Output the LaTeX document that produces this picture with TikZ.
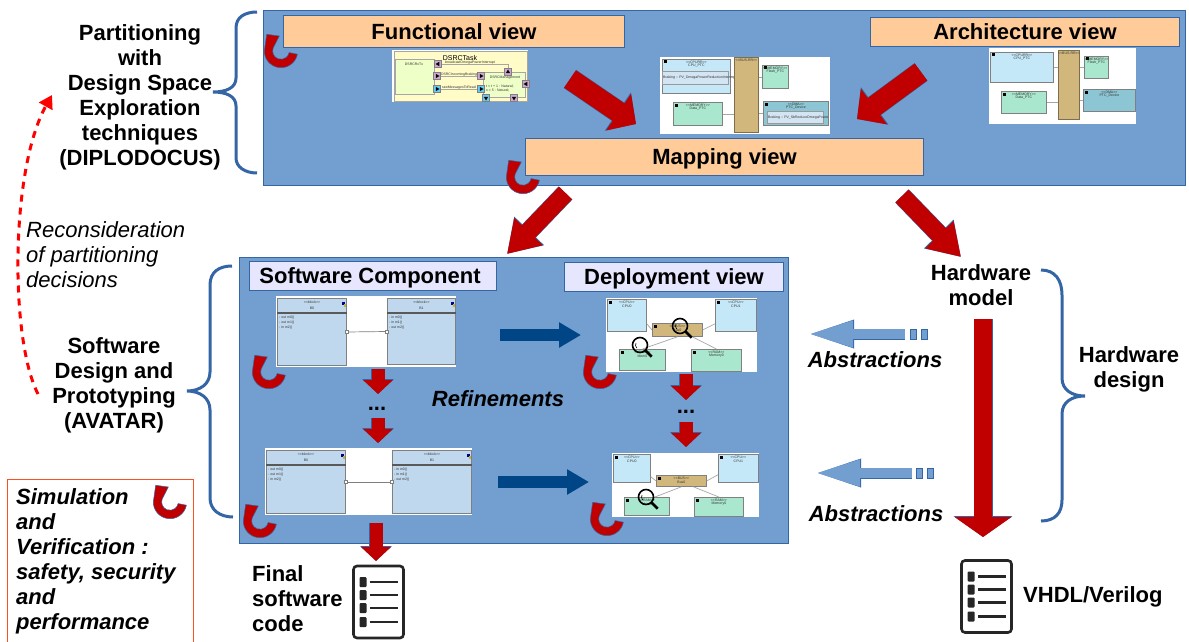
\documentclass[tikz,border=0pt]{standalone}
\usepackage{fontspec}
\setmainfont{Liberation Sans}
\usetikzlibrary{arrows.meta,shapes.geometric}
\definecolor{panelblue}{HTML}{729FCF}
\definecolor{edgeblue}{HTML}{3465A4}
\definecolor{arrowred}{HTML}{C00000}
\definecolor{navyblue}{HTML}{004586}
\definecolor{viewpeach}{HTML}{FFCC99}
\definecolor{viewlilac}{HTML}{E6E6FF}
\definecolor{cpublue}{HTML}{C5E8F8}
\definecolor{memgreen}{HTML}{A9E7CE}
\definecolor{bustan}{HTML}{D2B77C}
\definecolor{devteal}{HTML}{8CC5D3}
\definecolor{blockblue}{HTML}{C0D8EE}
\definecolor{simborder}{HTML}{FF4F20}
\newcommand{\stereo}[1]{<{}<#1>{}>}
\newcommand{\umlblock}[9]{
\node [umlbox,minimum width=#4pt,minimum height=#5pt] (#1) at (#2,#3) {};
\draw [umlline] ([yshift=-15pt]#1.north west) -- ([yshift=-15pt]#1.north east);
\fill [blue!55!black] ([shift={(-5pt,-4pt)}]#1.north east) rectangle +(3pt,-3pt);
\fill [yellow!70!black] ([shift={(-3pt,-6pt)}]#1.north east) rectangle +(2pt,-3pt);
\node [tinytext] (#1t) at ([yshift=-4pt]#1.north) {\stereo{block}};
\node [tinytext] (#1n) at ([yshift=-10pt]#1.north) {#6};
\node [tinytext,anchor=west] (#1a) at ([shift={(2pt,-20pt)}]#1.north west) {- #7};
\node [tinytext,anchor=west] (#1b) at ([shift={(2pt,-25pt)}]#1.north west) {- #8};
\node [tinytext,anchor=west] (#1c) at ([shift={(2pt,-30pt)}]#1.north west) {- #9};
}
\newcommand{\hwbox}[8]{
\node [hwnode,fill=#6,minimum width=#4pt,minimum height=#5pt] (#1) at (#2,#3) {};
\fill [black] ([shift={(1.5pt,-1.5pt)}]#1.north west) rectangle +(3pt,-3pt);
\node [tinytext] (#1s) at ([yshift=-3pt]#1.north) {\stereo{#7}};
\node [tinytext] (#1n) at ([yshift=-7pt]#1.north) {#8};
}
\newcommand{\dsrcport}[5]{
\node [portbox,fill=#4] (#1) at (#2,#3) {};
\node [porttip,shape border rotate=#5] (#1i) at (#2,#3) {};
}
\begin{document}
\begin{tikzpicture}[x=1pt,y=1pt]
\tikzstyle{every node}+=[inner sep=0pt]
\tikzstyle{boldtext}=[font=\bfseries\fontsize{22}{25}\selectfont,align=center]
\tikzstyle{leftbold}=[font=\bfseries\fontsize{22}{25}\selectfont,align=left,anchor=west]
\tikzstyle{emtext}=[font=\bfseries\itshape\fontsize{22}{25}\selectfont]
\tikzstyle{viewbox}=[draw=edgeblue,line width=1pt,fill=viewpeach,anchor=north west]
\tikzstyle{swbox}=[draw=edgeblue,line width=1pt,fill=viewlilac,anchor=north west]
\tikzstyle{panel}=[draw=edgeblue,line width=1pt,fill=panelblue]
\tikzstyle{curlybrace}=[draw=edgeblue,line width=3pt]
\tikzstyle{bigred}=[preaction={draw=edgeblue,line width=22pt,-{Triangle[length=22pt,width=45pt]}},draw=arrowred,line width=21pt,-{Triangle[length=21pt,width=43pt]}]
\tikzstyle{midred}=[preaction={draw=edgeblue,line width=19pt,-{Triangle[length=32pt,width=39pt]}},draw=arrowred,line width=18pt,-{Triangle[length=31pt,width=37pt]}]
\tikzstyle{longred}=[preaction={draw=edgeblue,line width=19pt,-{Triangle[length=21pt,width=58pt]}},draw=arrowred,line width=18pt,-{Triangle[length=20pt,width=56pt]}]
\tikzstyle{smallred}=[preaction={draw=edgeblue,line width=14pt,-{Triangle[length=15pt,width=31pt]}},draw=arrowred,line width=13pt,-{Triangle[length=14pt,width=29pt]}]
\tikzstyle{navyarrow}=[draw=navyblue,line width=12pt,-{Triangle[length=22pt,width=24pt]}]
\tikzstyle{abstrarrow}=[preaction={draw=edgeblue,line width=11pt,-{Triangle[length=47pt,width=25pt]}},draw=panelblue,line width=10pt,-{Triangle[length=46pt,width=24pt]}]
\tikzstyle{abstrdash}=[draw=edgeblue,line width=0.5pt,fill=panelblue,minimum width=6pt,minimum height=10pt]
\tikzstyle{thumbline}=[draw=gray!70,line width=0.7pt]
\tikzstyle{umlbox}=[draw=gray,line width=1pt,fill=blockblue,anchor=north west]
\tikzstyle{umlline}=[draw=gray!70!black,line width=1.2pt]
\tikzstyle{tinytext}=[font=\fontsize{3.5}{4}\selectfont,text=black!80]
\tikzstyle{hwnode}=[draw=gray,line width=0.8pt,anchor=north west]
\tikzstyle{inner}=[draw=gray!80,line width=0.6pt,fill=blockblue!70!white,anchor=north west]
\tikzstyle{portbox}=[draw=gray,line width=0.3pt,minimum size=7pt]
\tikzstyle{porttip}=[regular polygon,regular polygon sides=3,fill=black,minimum size=5pt]
\tikzset{turn/.pic={
\filldraw [draw=edgeblue,line width=0.5pt,fill=arrowred] (-11:16.7) arc (-11:-180:16.7) -- (-14.3,16.7) -- (-1.7,15) -- (-7.8,3) arc (159:349:8.3) -- cycle;
}}
\tikzset{magnify/.pic={
\draw [black,line width=1.6pt] (0,0) circle (7.5);
\draw [black,line width=2.6pt] (-45:8) -- (-45:16.5);
\draw [black,line width=0.6pt] (-4,2) arc (150:230:4);
}}
\tikzset{doclist/.pic={
\filldraw [draw=black!85,line width=2.6pt,fill=white,rounded corners=3.5pt] (-25,-36) rectangle (25,36);
\foreach \rowy in {20,7,-6,-20} {
\fill [black!85,rounded corners=1pt] (-19,\rowy-5) rectangle (-12,\rowy+5);
\draw [black!85,line width=2.4pt] (-9,\rowy) -- (19,\rowy);
}
}}
\useasboundingbox (0,0) rectangle (1189,-642);
\node [boldtext] (partlabel) at (140,-97) {Partitioning\\with\\Design Space\\Exploration\\techniques\\(DIPLODOCUS)};
\node [boldtext] (swlabel) at (114,-385) {Software\\Design and\\Prototyping\\(AVATAR)};
\node [font=\itshape\fontsize{22}{25}\selectfont,align=left,anchor=west] (reconlabel) at (26,-255) {Reconsideration\\of partitioning\\decisions};
\draw [curlybrace] (257,-12) .. controls (245,-12) and (236,-17) .. (236,-28) -- (236,-78) .. controls (236,-88) and (226,-92) .. (213,-92) .. controls (226,-92) and (236,-96) .. (236,-106) -- (236,-158) .. controls (236,-167) and (245,-173) .. (257,-173);
\draw [curlybrace] (232,-266) .. controls (219,-266) and (210,-272) .. (210,-285) -- (210,-372) .. controls (210,-384) and (200,-391) .. (187,-391) .. controls (200,-391) and (210,-398) .. (210,-410) -- (210,-498) .. controls (210,-510) and (220,-517) .. (233,-517);
\draw [curlybrace] (1041,-270) .. controls (1055,-270) and (1062,-280) .. (1062,-295) -- (1062,-378) .. controls (1062,-390) and (1072,-396) .. (1085,-396) .. controls (1072,-396) and (1062,-402) .. (1062,-414) -- (1062,-500) .. controls (1062,-513) and (1055,-521) .. (1041,-521);
\coordinate (backfrom) at (38,-394);
\coordinate (backto) at (52,-95);
\draw [red,line width=3pt,dash pattern=on 7pt off 6pt,-{Triangle[length=13pt,width=15pt]}] (backfrom) .. controls (10,-340) and (10,-170) .. (backto);

\node [panel,minimum width=922pt,minimum height=175pt,anchor=north west] (toppanel) at (263,-10) {};
\pic at (281,-51) {turn};
\pic at (523,-177) {turn};
\node [viewbox,minimum width=341pt,minimum height=32pt] (funcview) at (283,-15) {};
\node [boldtext] (functext) at (funcview.center) {Functional view};
\node [viewbox,minimum width=309pt,minimum height=29pt] (archview) at (870,-17) {};
\node [boldtext] (archtext) at (archview.center) {Architecture view};
\node [viewbox,minimum width=398pt,minimum height=37pt] (mapview) at (525,-138) {};
\node [boldtext,yshift=-1.5pt] (maptext) at (mapview.center) {Mapping view};

\fill [white] (392,-50) rectangle (528,-102);
\node [draw=gray!70,line width=0.8pt,fill=yellow!22,minimum width=133pt,minimum height=50pt,anchor=north west] (dsrctask) at (393.5,-51) {};
\node [font=\fontsize{7}{8}\selectfont] (dsrcname) at (460,-58) {DSRCTask};
\node [draw=gray!70,line width=0.7pt,fill=green!30!yellow!22,minimum width=39pt,minimum height=35pt,anchor=north west] (dsrcrx) at (395,-59) {};
\node [draw=gray!70,line width=0.7pt,fill=green!30!yellow!22,minimum width=42pt,minimum height=25pt,anchor=north west] (dsrcman) at (483,-72) {};
\node [tinytext] (rxname) at (414,-64) {DSRCRxTx};
\node [tinytext] (manname) at (505,-78) {DSRCManagement};
\node [tinytext,align=left,anchor=west] (mandecl) at (486,-88) {t = t + 1 : Natural;\\x = 5 : Natural;};
\dsrcport{pa}{438}{-64}{violet!35}{90}
\dsrcport{pb}{437}{-76}{violet!35}{-90}
\dsrcport{pc}{437}{-89}{cyan!60}{-90}
\dsrcport{pd}{481}{-76}{violet!35}{-90}
\dsrcport{pe}{481}{-89}{cyan!60}{-90}
\dsrcport{pf}{508}{-72}{violet!35}{0}
\dsrcport{pg}{526}{-84}{violet!35}{90}
\dsrcport{ph}{486}{-98}{cyan!60}{180}
\dsrcport{pi}{514}{-98}{violet!35}{180}
\draw [thumbline] (pa) -| (pf);
\draw [thumbline] (pb) -- (pd);
\draw [thumbline] (pc) -- (pe);
\node [tinytext,above=0pt] (pal) at (470,-64) {broadcastOmegaPowerInterrupt};
\node [tinytext,above=0pt] (pbl) at (459,-76) {DSRCIncomingBraking};
\node [tinytext,above=0pt] (pcl) at (459,-89) {rawMessagesToRead};

\fill [white] (660,-57) rectangle (830,-134);
\hwbox{mcpu}{662}{-59}{68}{34}{cpublue}{CPURR}{CPU\_PTC}
\node [inner,minimum width=66pt,minimum height=13pt] (mcpuin) at (662,-71) {};
\node [tinytext,anchor=west] (mcput) at ([xshift=1pt]mcpuin.west) {Braking :: PV\_OmegaPowerReductionInterrupt};
\node [draw=bustan!60!black,line width=0.8pt,fill=bustan,minimum width=24pt,minimum height=75pt,anchor=north west] (mbus) at (734,-57) {};
\node [tinytext] (mbusn) at ([yshift=-3pt]mbus.north) {\stereo{BUS-RR}};
\hwbox{mflash}{762}{-65}{26}{23}{memgreen}{MEMORY}{Flash\_PTC}
\hwbox{mdata}{673}{-102}{49}{23}{memgreen}{MEMORY}{Data\_PTC}
\hwbox{mdev}{763}{-101}{65}{24}{devteal}{DMA}{PTC\_Device}
\node [inner,minimum width=56pt,minimum height=12pt] (mdevin) at (767,-111) {};
\node [tinytext,anchor=west] (mdevt) at ([xshift=1pt]mdevin.west) {Braking :: PV\_SbReduceOmegaPower};
\draw [thumbline] (mcpu.east) -- (mbus.west |- mcpu.east);
\draw [thumbline] (mflash.west) -- (mbus.east |- mflash.west);
\draw [thumbline] (mdata.east) -- (mbus.west |- mdata.east);
\draw [thumbline] (mdev.west) -- (mbus.east |- mdev.west);

\fill [white] (989,-48) rectangle (1136,-124);
\hwbox{acpu}{990}{-52}{63}{30}{cpublue}{CPURR}{CPU\_PTC}
\node [draw=bustan!60!black,line width=0.8pt,fill=bustan,minimum width=21pt,minimum height=69pt,anchor=north west] (abus) at (1058,-50) {};
\node [tinytext] (abusn) at ([yshift=-3pt]abus.north) {\stereo{BUS-RR}};
\hwbox{aflash}{1084}{-56}{24}{22}{memgreen}{MEMORY}{Flash\_PTC}
\hwbox{adata}{1001}{-91}{45}{22}{memgreen}{MEMORY}{Data\_PTC}
\hwbox{adev}{1083}{-89}{52}{22}{devteal}{DMA}{PTC\_Device}
\draw [thumbline] (acpu.east) -- (abus.west |- acpu.east);
\draw [thumbline] (aflash.west) -- (abus.east |- aflash.west);
\draw [thumbline] (adata.east) -- (abus.west |- adata.east);
\draw [thumbline] (adev.west) -- (abus.east |- adev.west);

\coordinate (funcfrom) at (570,-79);
\coordinate (functo) at (636,-124);
\draw [bigred] (funcfrom) -- (functo);
\coordinate (archfrom) at (921,-72);
\coordinate (archto) at (857,-119);
\draw [bigred] (archfrom) -- (archto);
\coordinate (mapswfrom) at (565.5,-193);
\coordinate (mapswto) at (507,-254);
\draw [midred] (mapswfrom) -- (mapswto);
\coordinate (maphwfrom) at (902,-196);
\coordinate (maphwto) at (961,-257);
\draw [midred] (maphwfrom) -- (maphwto);

\node [panel,minimum width=549pt,minimum height=286pt,anchor=north west] (swpanel) at (239,-257) {};
\node [swbox,minimum width=247pt,minimum height=29pt] (swcomp) at (249,-261) {};
\node [boldtext,xshift=-3pt,yshift=-2pt] (swcomptext) at (swcomp.center) {Software Component};
\node [swbox,minimum width=219pt,minimum height=29pt] (deploy) at (564,-262) {};
\node [boldtext,yshift=-2pt] (deploytext) at (deploy.center) {Deployment view};

\fill [white] (276,-296) rectangle (456,-367);
\umlblock{blockaa}{277}{-298}{69}{67}{B0}{out m0()}{out m1()}{in m2()}
\umlblock{blockab}{387}{-298}{68}{66}{B1}{in m0()}{in m1()}{out m2()}
\draw [thumbline,draw=gray] (blockaa.east) -- (blockab.west);
\node [draw=gray,fill=white,minimum size=3pt] (sqaa) at (blockaa.east) {};
\node [draw=gray,fill=white,minimum size=3pt] (sqab) at (blockab.west) {};

\fill [white] (265,-448) rectangle (472,-515);
\umlblock{blockba}{266}{-450}{79}{63}{B0}{out m0()}{out m1()}{in m2()}
\umlblock{blockbb}{392}{-450}{79}{63}{B1}{in m0()}{in m1()}{out m2()}
\draw [thumbline,draw=gray] (blockba.east) -- (blockbb.west);
\node [draw=gray,fill=white,minimum size=3pt] (sqba) at (blockba.east) {};
\node [draw=gray,fill=white,minimum size=3pt] (sqbb) at (blockbb.west) {};

\fill [white] (606,-298) rectangle (757,-372);
\hwbox{dacpua}{607}{-299}{39}{32}{cpublue}{CPU}{CPU0}
\hwbox{dacpub}{715}{-299}{41}{32}{cpublue}{CPU}{CPU1}
\hwbox{dabus}{652}{-323}{50}{13}{bustan}{BUS}{Bus0}
\hwbox{damema}{619}{-349}{46}{21}{memgreen}{RAM}{Mem0}
\hwbox{damemb}{691}{-349}{50}{22}{memgreen}{RAM}{Memory0}
\draw [thumbline] ([yshift=8pt]dacpua.south east) -- (dabus.west);
\draw [thumbline] (dabus.east) -- ([yshift=8pt]dacpub.south west);
\draw [thumbline] (dabus.south) -- (damema.north);
\draw [thumbline] ([xshift=15pt]dabus.south) -- (damemb.north);
\pic at (680,-326) {magnify};
\pic at (640,-345) {magnify};

\fill [white] (612,-453) rectangle (759,-517);
\hwbox{dbcpua}{613}{-454}{37}{28}{cpublue}{CPU}{CPU0}
\hwbox{dbcpub}{718}{-454}{40}{28}{cpublue}{CPU}{CPU1}
\hwbox{dbbus}{656}{-475}{50}{11}{bustan}{BUS}{Bus0}
\hwbox{dbmema}{624}{-497}{45}{18}{memgreen}{RAM}{Mem0}
\hwbox{dbmemb}{694}{-497}{49}{19}{memgreen}{RAM}{Memory0}
\draw [thumbline] ([yshift=6pt]dbcpua.south east) -- (dbbus.west);
\draw [thumbline] (dbbus.east) -- ([yshift=8pt]dbcpub.south west);
\draw [thumbline] (dbbus.south) -- ([xshift=8pt]dbmema.north);
\draw [thumbline] ([xshift=12pt]dbbus.south) -- (dbmemb.north);
\pic at (646,-497) {magnify};

\pic at (269,-372) {turn};
\pic at (260,-521) {turn};
\pic at (600,-372) {turn};
\pic at (607,-519) {turn};

\coordinate (swafrom) at (378,-369);
\coordinate (swato) at (378,-394);
\draw [smallred] (swafrom) -- (swato);
\node [boldtext] (swdots) at (377,-409) {...};
\coordinate (swbfrom) at (378,-418);
\coordinate (swbto) at (378,-443);
\draw [smallred] (swbfrom) -- (swbto);
\coordinate (depafrom) at (686,-374);
\coordinate (depato) at (686,-400);
\draw [smallred] (depafrom) -- (depato);
\node [boldtext] (depdots) at (686,-412) {...};
\coordinate (depbfrom) at (686,-422);
\coordinate (depbto) at (686,-447);
\draw [smallred] (depbfrom) -- (depbto);
\coordinate (swfinalfrom) at (376,-523);
\coordinate (swfinalto) at (376,-561);
\draw [smallred] (swfinalfrom) -- (swfinalto);
\coordinate (navyafrom) at (500,-335);
\coordinate (navyato) at (581,-335);
\draw [navyarrow] (navyafrom) -- (navyato);
\coordinate (navybfrom) at (498,-482);
\coordinate (navybto) at (589,-482);
\draw [navyarrow] (navybfrom) -- (navybto);
\node [emtext] (refinetext) at (498,-399) {Refinements};

\node [boldtext] (hwmodel) at (981,-285) {Hardware\\model};
\node [boldtext] (hwdesign) at (1129,-369.5) {Hardware\\design};
\coordinate (hwfrom) at (983,-319);
\coordinate (hwto) at (983,-537);
\draw [longred] (hwfrom) -- (hwto);
\node [abstrdash] (absaa) at (913,-334) {};
\node [abstrdash] (absab) at (924,-334) {};
\coordinate (absafrom) at (905,-334);
\coordinate (absato) at (807,-334);
\draw [abstrarrow] (absafrom) -- (absato);
\node [emtext] (absatext) at (875,-360) {Abstractions};
\node [abstrdash] (absba) at (919.5,-473) {};
\node [abstrdash] (absbb) at (930,-473) {};
\coordinate (absbfrom) at (912,-473);
\coordinate (absbto) at (814,-473);
\draw [abstrarrow] (absbfrom) -- (absbto);
\node [emtext] (absbtext) at (876,-514) {Abstractions};

\draw [draw=simborder,line width=1pt] (7,-642) -- (7,-479) -- (193,-479) -- (193,-642);
\node [emtext,align=left,anchor=north west] (simtext) at (16,-488) {Simulation\\and\\Verification :\\safety, security\\and\\performance};
\pic at (170,-502) {turn};

\node [leftbold] (finaltext) at (252,-599) {Final\\software\\code};
\pic at (378.5,-602) {doclist};
\pic at (986.5,-596.5) {doclist};
\node [leftbold] (vhdltext) at (1023,-597) {VHDL/Verilog};
\end{tikzpicture}
\end{document}
